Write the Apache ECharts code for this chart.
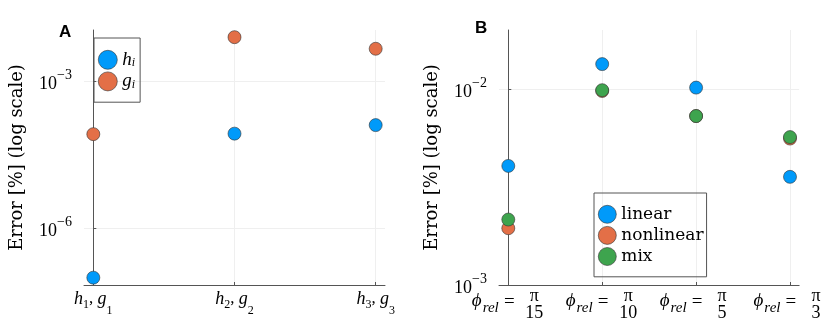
<!DOCTYPE html>
<html>
<head>
<meta charset="utf-8">
<script src="https://cdn.jsdelivr.net/npm/echarts@6/dist/echarts.min.js"></script>
<style>
  html, body { margin: 0; padding: 0; background: #fff; }
  #main { width: 830px; height: 332px; }
</style>
</head>
<body>
<div id="main"></div>
<script>
var chartDom = document.getElementById('main');
var myChart = echarts.init(chartDom);
var option;

// panel A: error of h_i / g_i
const pairIdx = [1, 2, 3];
const hErr = [1.0e-7, 8.7e-5, 1.3e-4];
const gErr = [8.5e-5, 8.1e-3, 4.7e-3];

// panel B: error vs phi_rel = pi / den
const phiDen = ['15', '10', '5', '3'];
const linearErr = [4.06e-3, 1.345e-2, 1.02e-2, 3.57e-3];
const nonlinearErr = [1.95e-3, 9.8e-3, 7.3e-3, 5.6e-3];
const mixErr = [2.16e-3, 9.9e-3, 7.3e-3, 5.7e-3];

const yTicksA = [1e-6, 1e-3];
const yTicksB = [1e-3, 1e-2];

const BLUE = '#009AFA';
const ORANGE = '#E36F47';
const GREEN = '#3EA44E';
const AXIS = '#555';
const GRID = '#efefef';
const SERIF = 'Liberation Serif';

const toPts = arr => arr.map((v, i) => [i, v]);

// 10^{-n} labels
const powLabel = v => {
  const e = Math.round(Math.log10(v));
  return '{b|10}{sup|' + (e < 0 ? '\u2212' + (-e) : e) + '}';
};
const powRich = {
  b: { fontFamily: SERIF, fontSize: 18, color: '#000', lineHeight: 26, padding: [6, 0, 0, 0] },
  sup: { fontFamily: SERIF, fontSize: 14, color: '#000', verticalAlign: 'top', lineHeight: 12 }
};

function yAxisCfg(grid, min, max, ticks) {
  return {
    type: 'log',
    logBase: 10,
    gridIndex: grid,
    min: min,
    max: max,
    name: 'Error [%] (log scale)',
    nameLocation: 'middle',
    nameGap: 58,
    nameTextStyle: { fontFamily: 'DejaVu Serif', fontSize: 18, color: '#000' },
    axisLine: { show: true, lineStyle: { color: AXIS, width: 1 } },
    axisTick: { show: true, inside: true, length: 3, customValues: ticks, lineStyle: { color: AXIS } },
    axisLabel: { customValues: ticks, margin: 12, formatter: powLabel, rich: powRich },
    splitLine: { show: true, lineStyle: { color: GRID, width: 1 } }
  };
}

const scatterBase = {
  type: 'scatter',
  symbol: 'circle',
  symbolSize: 13,
  emphasis: { disabled: true }
};
const dotStyle = c => ({ color: c, borderColor: '#333', borderWidth: 0.6, opacity: 1 });
const legendDot = { borderColor: '#333', borderWidth: 0.6 };

// rich piece, top aligned, pushed down by `dy` px (for subscripts)
const txt = (size, dy, extra) => Object.assign(
  { fontFamily: SERIF, fontSize: size, color: '#000', verticalAlign: 'top', padding: [dy, 0, 0, 0] }, extra || {});

option = {
  animation: false,
  title: [
    { text: 'A', left: 59, top: 24, padding: 0,
      textStyle: { fontFamily: 'Liberation Sans', fontWeight: 'bold', fontSize: 17, color: '#000' } },
    { text: 'B', left: 475, top: 20, padding: 0,
      textStyle: { fontFamily: 'Liberation Sans', fontWeight: 'bold', fontSize: 17, color: '#000' } }
  ],
  grid: [
    { left: 84, top: 30, width: 301, height: 255 },
    { left: 499, top: 30, width: 301, height: 255 }
  ],
  legend: [
    {
      orient: 'vertical',
      left: 94, top: 38,
      padding: [12, 5, 11, 4],
      itemGap: 2,
      itemWidth: 19, itemHeight: 19,
      itemStyle: legendDot,
      borderColor: AXIS, borderWidth: 1,
      data: ['h_i', 'g_i'],
      selectedMode: false,
      formatter: n => '{i|' + n.charAt(0) + '}{s|i}',
      textStyle: {
        rich: {
          i: txt(19, 0, { fontStyle: 'italic', lineHeight: 19 }),
          s: txt(12, 7, { fontStyle: 'italic', lineHeight: 19 })
        }
      }
    },
    {
      orient: 'vertical',
      left: 594, top: 193,
      padding: [12, 3, 11, 4],
      itemGap: 2.5,
      itemWidth: 18, itemHeight: 18,
      itemStyle: legendDot,
      borderColor: AXIS, borderWidth: 1,
      data: ['linear', 'nonlinear', 'mix'],
      selectedMode: false,
      textStyle: { fontFamily: 'DejaVu Serif', fontSize: 17, color: '#000' }
    }
  ],
  xAxis: [
    {
      type: 'value',
      gridIndex: 0,
      min: -0.066, max: 2.066,
      axisLine: { show: true, onZero: false, lineStyle: { color: AXIS, width: 1 } },
      axisTick: { show: true, inside: true, length: 3, customValues: [0, 1, 2], lineStyle: { color: AXIS } },
      axisLabel: {
        customValues: [0, 1, 2],
        margin: 0,
        formatter: v => {
          const k = pairIdx[Math.round(v)];
          return '{i|h}{sa|' + k + '}{n|, }{i|g}{sb|' + k + '}';
        },
        rich: {
          i: txt(18, 5, { fontStyle: 'italic' }),
          n: txt(17, 5.5),
          sa: txt(12, 14),
          sb: txt(12, 20)
        }
      },
      splitLine: { show: true, lineStyle: { color: GRID, width: 1 } }
    },
    {
      type: 'value',
      gridIndex: 1,
      position: 'bottom',
      min: -0.099, max: 3.097,
      axisLine: { show: true, onZero: false, lineStyle: { color: AXIS, width: 1 } },
      axisTick: { show: true, inside: true, length: 3, customValues: [0, 1, 2, 3], lineStyle: { color: AXIS } },
      axisLabel: {
        customValues: [0, 1, 2, 3],
        margin: 2,
        formatter: () => '{phi|\u03d5}{rel|rel}{eq|=}{sp|}',
        rich: {
          phi: txt(19, 4, { fontStyle: 'italic' }),
          rel: txt(15, 14, { fontStyle: 'italic', padding: [14, 2, 0, 1] }),
          eq: txt(19, 5.5, { width: 17, align: 'center' }),
          sp: txt(12, 0, { width: 27 })
        }
      },
      splitLine: { show: true, lineStyle: { color: GRID, width: 1 } }
    },
    {
      type: 'value',
      gridIndex: 1,
      position: 'bottom',
      min: -0.099, max: 3.097,
      axisLine: { show: false },
      axisTick: { show: false },
      splitLine: { show: false },
      axisLabel: {
        customValues: [0, 1, 2, 3],
        margin: 3,
        formatter: v => '{sp|}{f|\u03c0}\n{sp|}{f|' + phiDen[Math.round(v)] + '}',
        rich: {
          sp: { width: 52, lineHeight: 16.6 },
          f: { fontFamily: SERIF, fontSize: 18, color: '#000', width: 22, align: 'center', lineHeight: 16.6 }
        }
      }
    }
  ],
  yAxis: [
    yAxisCfg(0, Math.pow(10, -7.15), Math.pow(10, -1.945), yTicksA),
    yAxisCfg(1, 1e-3, Math.pow(10, -1.697), yTicksB)
  ],
  series: [
    Object.assign({}, scatterBase, { name: 'h_i', xAxisIndex: 0, yAxisIndex: 0, data: toPts(hErr), itemStyle: dotStyle(BLUE) }),
    Object.assign({}, scatterBase, { name: 'g_i', xAxisIndex: 0, yAxisIndex: 0, data: toPts(gErr), itemStyle: dotStyle(ORANGE) }),
    Object.assign({}, scatterBase, { name: 'linear', xAxisIndex: 1, yAxisIndex: 1, data: toPts(linearErr), itemStyle: dotStyle(BLUE) }),
    Object.assign({}, scatterBase, { name: 'nonlinear', xAxisIndex: 1, yAxisIndex: 1, data: toPts(nonlinearErr), itemStyle: dotStyle(ORANGE) }),
    Object.assign({}, scatterBase, { name: 'mix', xAxisIndex: 1, yAxisIndex: 1, data: toPts(mixErr), itemStyle: dotStyle(GREEN) })
  ]
};

option && myChart.setOption(option);
</script>
</body>
</html>
